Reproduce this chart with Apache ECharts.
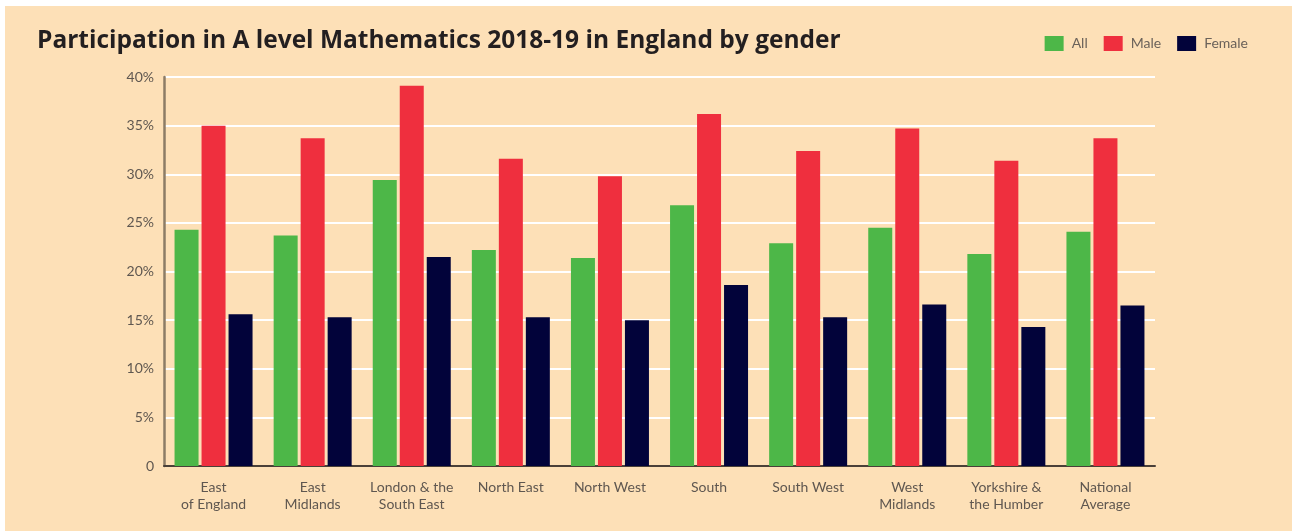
<!DOCTYPE html>
<html>
<head>
<meta charset="utf-8">
<script src="https://cdn.jsdelivr.net/npm/echarts@6/dist/echarts.min.js"></script>
<style>
html,body{margin:0;padding:0;background:#ffffff;}
#chart{width:1299px;height:531px;}
</style>
</head>
<body>
<div id="chart"></div>
<script>
const categories = ['East\nof England','East\nMidlands','London & the\nSouth East','North East','North West','South','South West','West\nMidlands','Yorkshire &\nthe Humber','National\nAverage'];
const allValues = [24.3, 23.7, 29.4, 22.2, 21.4, 26.8, 22.9, 24.5, 21.8, 24.1];
const maleValues = [35.0, 33.7, 39.1, 31.6, 29.8, 36.2, 32.4, 34.7, 31.4, 33.7];
const femaleValues = [15.6, 15.3, 21.5, 15.3, 15.0, 18.6, 15.3, 16.6, 14.3, 16.5];
const yTicks = [0, 5, 10, 15, 20, 25, 30, 35, 40];

const FONT = 'Lato, "Noto Sans", sans-serif';
const chart = echarts.init(document.getElementById('chart'));
chart.setOption({
  animation: false,
  backgroundColor: '#ffffff',
  graphic: [{
    type: 'rect', z: -10, silent: true,
    shape: {x: 5, y: 6, width: 1287, height: 530},
    style: {fill: '#FDE0B7'}
  }],
  title: {
    text: 'Participation in A level Mathematics 2018-19 in England by gender',
    left: 32, top: 24,
    textStyle: {fontFamily: '"Open Sans", sans-serif', fontWeight: 'bold', fontSize: 24.5, color: '#231f20'}
  },
  legend: {
    right: 46, top: 31,
    itemWidth: 19, itemHeight: 15, itemGap: 16,
    icon: 'rect',
    textStyle: {fontFamily: FONT, fontSize: 14, color: '#6b625a', padding: [0, 0, 0, 3]},
    data: ['All', 'Male', 'Female']
  },
  grid: {left: 164, right: 144, top: 77, bottom: 65, containLabel: false},
  xAxis: {
    type: 'category',
    data: categories,
    axisLine: {lineStyle: {color: '#4a4038', width: 2}},
    axisTick: {inside: true, length: 9, lineStyle: {color: '#4a4038', width: 1.5}},
    axisLabel: {fontFamily: FONT, fontSize: 14, color: '#5f5750', margin: 13, lineHeight: 17, interval: 0}
  },
  yAxis: {
    type: 'value',
    min: 0, max: 40, interval: 5,
    axisLine: {show: true, lineStyle: {color: '#8c7c66', width: 2.5}},
    axisTick: {show: false},
    splitLine: {lineStyle: {color: '#ffffff', width: 2}},
    axisLabel: {
      fontFamily: FONT, fontSize: 14, color: '#5f5750', margin: 10,
      formatter: function (v) { return yTicks.indexOf(v) < 0 ? '' : (v === 0 ? '0' : v + '%'); }
    }
  },
  series: [
    {name: 'All', type: 'bar', data: allValues, barWidth: 24, barGap: '12.5%', itemStyle: {color: '#4DB748'}},
    {name: 'Male', type: 'bar', data: maleValues, barWidth: 24, barGap: '12.5%', itemStyle: {color: '#EF2F3E'}},
    {name: 'Female', type: 'bar', data: femaleValues, barWidth: 24, barGap: '12.5%', itemStyle: {color: '#02033A'}}
  ]
});
</script>
</body>
</html>
